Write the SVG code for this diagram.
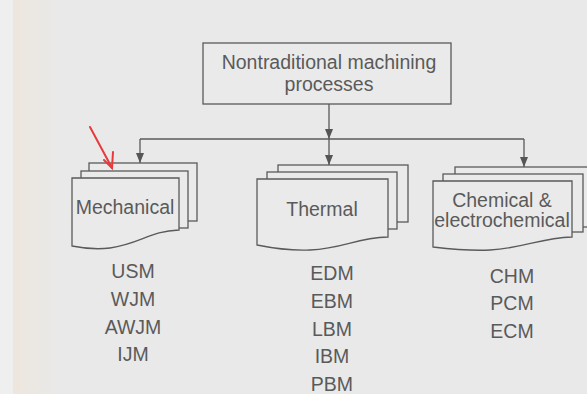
<svg xmlns="http://www.w3.org/2000/svg" width="587" height="394" viewBox="0 0 587 394">
<defs>
<linearGradient id="bg" x1="0" y1="0" x2="1" y2="0">
<stop offset="0" stop-color="#ede6de"/>
<stop offset="1" stop-color="#e9e9e9"/>
</linearGradient>
<marker id="ah" markerWidth="10" markerHeight="8" refX="10" refY="4" orient="auto" markerUnits="userSpaceOnUse" viewBox="0 0 10 8">
<path d="M0,0 L10,4 L0,8 Z" fill="#555"/>
</marker>
<style>
.ln{fill:none;stroke:#5a5a5a;stroke-width:1.3}
.cd{fill:#eaeaea;stroke:#5a5a5a;stroke-width:1.3}
.t{font-family:"Liberation Sans",Arial,sans-serif;font-size:19.5px;fill:#5a5a5a;text-anchor:middle}
.red{fill:none;stroke:#e83a3a;stroke-width:2;stroke-linecap:round}
</style>
</defs>
<rect width="587" height="394" fill="#e9e9e9"/>
<rect x="13" y="0" width="45" height="394" fill="url(#bg)"/>
<rect x="0" y="0" width="13" height="394" fill="#efeff0"/>

<g id="root">
<rect class="cd" x="203" y="43" width="248" height="61"/>
<text class="t" x="329" y="69">Nontraditional machining</text>
<text class="t" x="329" y="91">processes</text>
</g>

<g id="connectors">
<path class="ln" d="M329,104 V139" marker-end="url(#ah)"/>
<path class="ln" d="M140,139 H524"/>
<path class="ln" d="M140,139 V163" marker-end="url(#ah)"/>
<path class="ln" d="M329,139 V165" marker-end="url(#ah)"/>
<path class="ln" d="M524,139 V167" marker-end="url(#ah)"/>
</g>

<g id="mechanical">
<rect class="cd" x="89" y="163" width="108" height="58"/>
<rect class="cd" x="81" y="171" width="107" height="57"/>
<path class="cd" d="M72,178 H179 V230 C150,231 140,244 110,248 C95,250 82,248 72,246 Z"/>
<text class="t" x="125" y="214">Mechanical</text>
</g>

<g id="thermal">
<rect class="cd" x="278" y="165" width="130" height="57"/>
<rect class="cd" x="267" y="172" width="130" height="57"/>
<path class="cd" d="M257,179 H388 V237 C355,238 345,248 310,250 C290,251 272,248 257,245 Z"/>
<text class="t" x="322" y="216">Thermal</text>
</g>

<g id="chemical">
<rect class="cd" x="455" y="167" width="140" height="60"/>
<rect class="cd" x="443" y="174" width="140" height="58"/>
<path class="cd" d="M433,181 H572 V237 C540,238 525,248 490,250 C470,251 450,249 433,247 Z"/>
<text class="t" x="502" y="207">Chemical &amp;</text>
<text class="t" x="502" y="227">electrochemical</text>
</g>

<g id="mech-list">
<text class="t" x="133" y="278">USM</text>
<text class="t" x="133" y="306">WJM</text>
<text class="t" x="133" y="334">AWJM</text>
<text class="t" x="133" y="361">IJM</text>
</g>

<g id="thermal-list">
<text class="t" x="332" y="280">EDM</text>
<text class="t" x="332" y="308">EBM</text>
<text class="t" x="332" y="336">LBM</text>
<text class="t" x="332" y="363">IBM</text>
<text class="t" x="332" y="391">PBM</text>
</g>

<g id="chem-list">
<text class="t" x="512" y="283">CHM</text>
<text class="t" x="512" y="310">PCM</text>
<text class="t" x="512" y="338">ECM</text>
</g>

<g id="red-arrow">
<path class="red" d="M90,127 L112,168"/>
<path class="red" d="M113,152 L112,168 L104,160"/>
</g>
</svg>
